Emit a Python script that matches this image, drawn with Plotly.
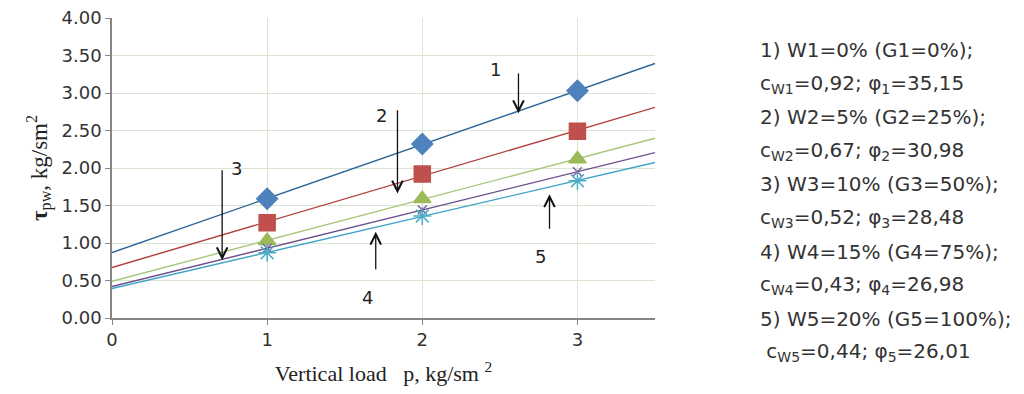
import numpy as np
import plotly.graph_objects as go

# ---- data ----
p_load = [1, 2, 3]
tau_1 = [1.59, 2.32, 3.03]
tau_2 = [1.27, 1.92, 2.49]
tau_3 = [1.03, 1.59, 2.12]
tau_4 = [0.93, 1.44, 1.95]
tau_5 = [0.87, 1.36, 1.83]
series_names = ["1", "2", "3", "4", "5"]
x_ticks = [0, 1, 2, 3]
y_ticks = [0, 0.5, 1, 1.5, 2, 2.5, 3, 3.5, 4]
legend_lines = [
    "1) W1=0% (G1=0%);",
    "c<sub>W1</sub>=0,92; φ<sub>1</sub>=35,15",
    "2) W2=5% (G2=25%);",
    "c<sub>W2</sub>=0,67; φ<sub>2</sub>=30,98",
    "3) W3=10% (G3=50%);",
    "c<sub>W3</sub>=0,52; φ<sub>3</sub>=28,48",
    "4) W4=15% (G4=75%);",
    "c<sub>W4</sub>=0,43; φ<sub>4</sub>=26,98",
    "5) W5=20% (G5=100%);",
    " c<sub>W5</sub>=0,44; φ<sub>5</sub>=26,01",
]
# curve labels: (label, text x, text y, arrow tail x, tail y, head x, head y)
curve_labels = [
    ("1", 2.47, 3.31, 2.62, 3.28, 2.62, 2.73),
    ("2", 1.74, 2.70, 1.84, 2.79, 1.84, 1.66),
    ("3", 0.80, 1.99, 0.71, 1.99, 0.71, 0.77),
    ("4", 1.65, 0.27, 1.70, 0.63, 1.70, 1.15),
    ("5", 2.76, 0.82, 2.82, 1.17, 2.82, 1.65),
]

colors = ["#4F81BD", "#C0504D", "#9BBB59", "#8064A2", "#4BACC6"]
line_colors = ["#2A6496", "#B03E3B", "#A9C77A", "#6A4E8C", "#3FA4C8"]
symbols = ["diamond", "square", "triangle-up", "x-thin-open", "asterisk-open"]
sizes = [16, 16, 15, 9, 15]

fig = go.Figure()
x_fit = np.array([0.0, 3.5])
for i, ys in enumerate([tau_1, tau_2, tau_3, tau_4, tau_5]):
    k, b = np.polyfit(p_load, ys, 1)
    fig.add_trace(go.Scatter(x=x_fit, y=k * x_fit + b, mode="lines",
                             line=dict(color=line_colors[i], width=1.4),
                             showlegend=False, hoverinfo="skip"))
for i, ys in enumerate([tau_1, tau_2, tau_3, tau_4, tau_5]):
    fig.add_trace(go.Scatter(x=p_load, y=ys, mode="markers", name=series_names[i],
                             marker=dict(symbol=symbols[i], size=sizes[i], color=colors[i],
                                         line=dict(color=colors[i], width=1.5)),
                             showlegend=False))

for lab, tx, ty, ax_, ay_, hx, hy in curve_labels:
    fig.add_annotation(x=tx, y=ty, text=lab, showarrow=False,
                       font=dict(family="DejaVu Sans", size=18, color="#222"))
    fig.add_annotation(x=hx, y=hy, ax=ax_, ay=ay_, axref="x", ayref="y",
                       text="", showarrow=True, arrowhead=5, arrowsize=1.6,
                       arrowwidth=1.3, arrowcolor="#111")

for j, t in enumerate(legend_lines):
    fig.add_annotation(xref="paper", yref="paper", x=(758 - 112) / 543, y=0,
                       yshift=(318 - 50 - j * 33.6), xanchor="left", yanchor="middle",
                       text=t, showarrow=False, align="left",
                       font=dict(family="DejaVu Sans", size=20, color="#333"))

fig.update_layout(
    width=1024, height=394,
    margin=dict(l=104, r=377, t=10, b=84),
    plot_bgcolor="white", paper_bgcolor="white",
    font=dict(family="DejaVu Sans", color="#333"),
    xaxis=dict(range=[0, 3.5], tickvals=x_ticks, ticktext=[str(v) for v in x_ticks],
               showgrid=True, gridcolor="#DCE5D4", gridwidth=1,
               showline=True, linecolor="#868686", linewidth=1.5,
               ticks="outside", ticklen=5, tickcolor="#868686",
               tickfont=dict(family="DejaVu Sans", size=18, color="#333"),
               zeroline=False, automargin=False,
               title=dict(text="Vertical load   p, kg/sm <sup>2</sup>",
                          font=dict(family="Liberation Serif", size=22, color="#222"),
                          standoff=16)),
    yaxis=dict(range=[0, 4], tickvals=y_ticks, tickformat=".2f",
               showgrid=True, gridcolor="#DCE5D4", gridwidth=1,
               showline=True, linecolor="#868686", linewidth=1.5,
               ticks="outside", ticklen=5, tickcolor="#868686",
               tickfont=dict(family="DejaVu Sans", size=18, color="#333"),
               ticklabeloverflow="allow",
               zeroline=False, automargin=False,
               title=dict(text="<b>τ</b><sub>pw</sub>, kg/sm<sup>2</sup>",
                          font=dict(family="Liberation Serif", size=23, color="#222"),
                          standoff=8)),
)

fig.write_html("out.html")
